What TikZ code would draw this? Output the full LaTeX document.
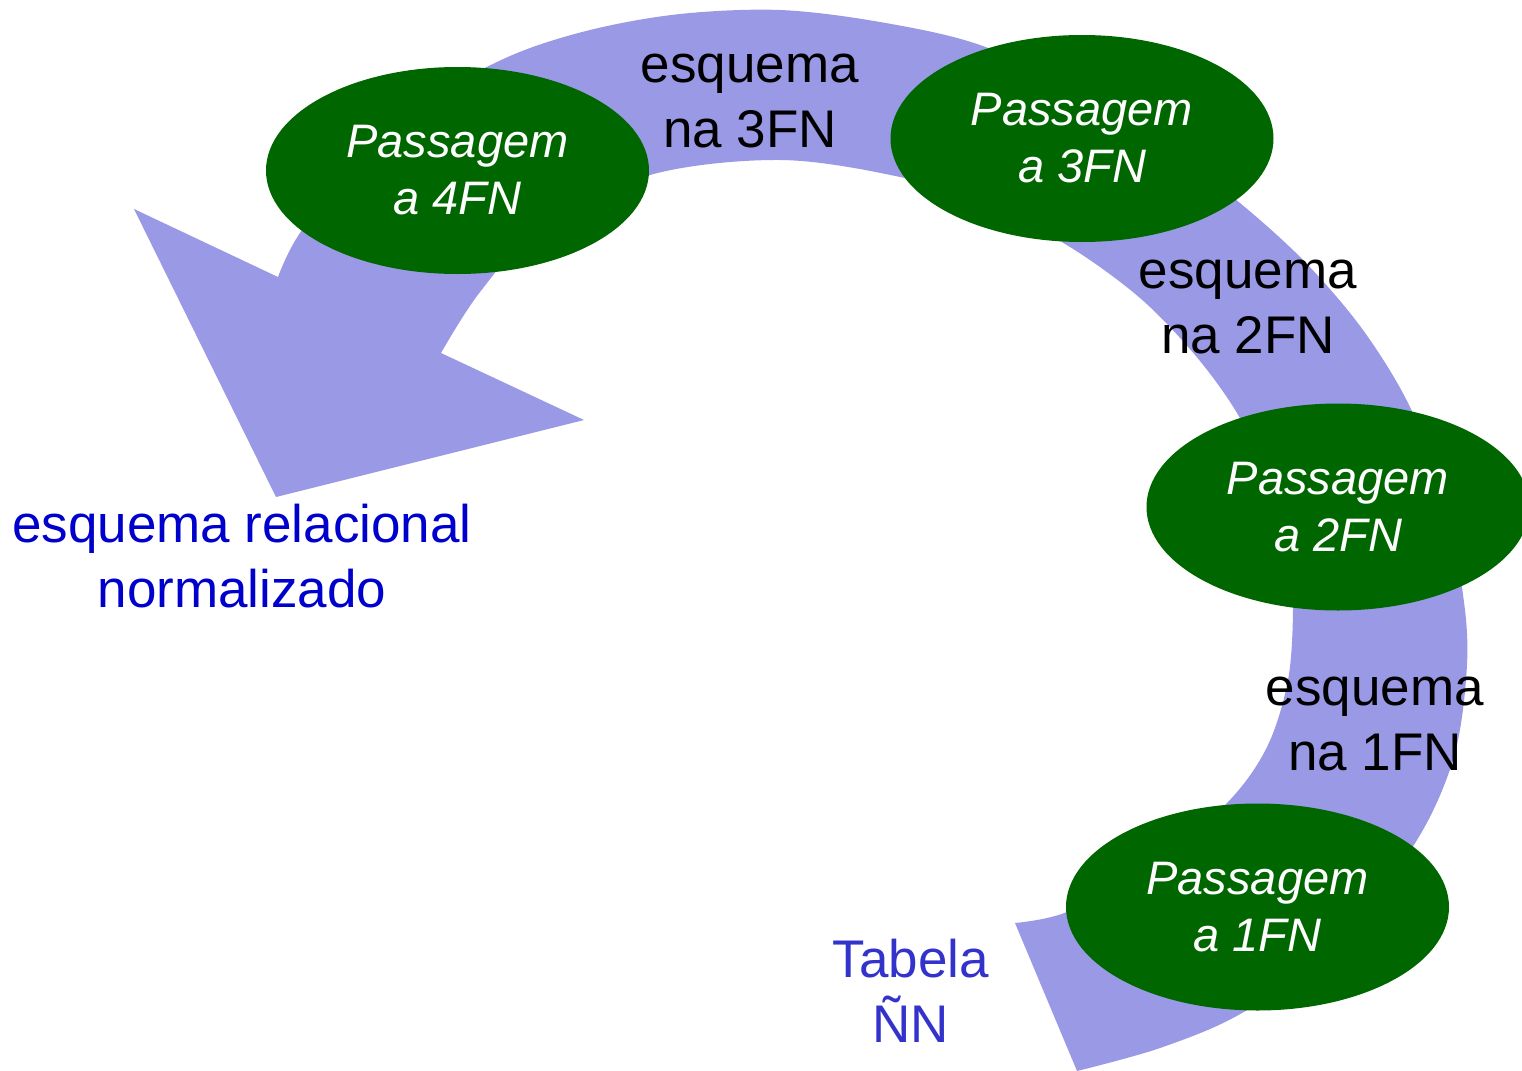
\documentclass[tikz,border=0pt]{standalone}
\usepackage{fontspec}
\setmainfont{Liberation Sans}
\usetikzlibrary{shapes.geometric}
\definecolor{bandc}{RGB}{153,153,230}
\definecolor{stepgreen}{RGB}{0,102,0}
\definecolor{relblue}{RGB}{0,0,204}
\definecolor{tabblue}{RGB}{51,51,204}
\begin{document}
\begin{tikzpicture}[x=0.5pt,y=-0.5pt,
  stepnode/.style={ellipse, fill=stepgreen, minimum width=191.5pt, minimum height=103.5pt,
    inner sep=0pt, text=white, font=\fontsize{23.5}{28.5}\selectfont\itshape, align=center},
  lbltext/.style={font=\fontsize{26.5}{32.5}\selectfont, align=center, inner sep=0pt, anchor=base},
  bandfill/.style={fill=bandc}]
\useasboundingbox (0,0) rectangle (1522,1071);
% big curved arrow
\fill[bandfill] plot[smooth, tension=0.55] coordinates {(1077,1071) (1163,1047) (1247,1010) (1345,935) (1417,840) (1453,760) (1466,680) (1465,610) (1445,500) (1410,407) (1363,330) (1305,262) (1240,203) (1170,150) (1080,92) (980,45) (880,22) (780,10) (680,14) (590,30) (510,56) (430,100) (360,160) (300,233) (278,277)}
  -- (134,209) -- (276,497) -- (584,420) -- (441,353)
  -- plot[smooth, tension=0.55] coordinates {(441,353) (480,292) (540,228) (650,175) (780,160) (900,177) (990,205) (1070,247) (1140,298) (1195,355) (1237,413) (1270,480) (1290,550) (1293,610) (1288,680) (1267,747) (1227,803) (1150,868) (1067,912) (1015,923)}
  -- cycle;
% steps
\node[stepnode] (p4) at (457.5,170.5) {Passagem\\a 4FN};
\node[stepnode] (p3) at (1082,138.5) {Passagem\\a 3FN};
\node[stepnode] (p2) at (1338,507) {Passagem\\a 2FN};
\node[stepnode] (p1) at (1257.5,907) {Passagem\\a 1FN};
% labels (anchor = baseline of the last line)
\node[lbltext] (e3) at (750,147) {esquema\\na 3FN};
\node[lbltext] (e2) at (1248,353) {esquema\\na 2FN};
\node[lbltext] (e1) at (1375,770) {esquema\\na 1FN};
\node[lbltext, text=relblue] (rel) at (242,607) {esquema relacional\\normalizado};
\node[lbltext, text=tabblue] (tab) at (911,1042) {Tabela\\ÑN};
\end{tikzpicture}
\end{document}
